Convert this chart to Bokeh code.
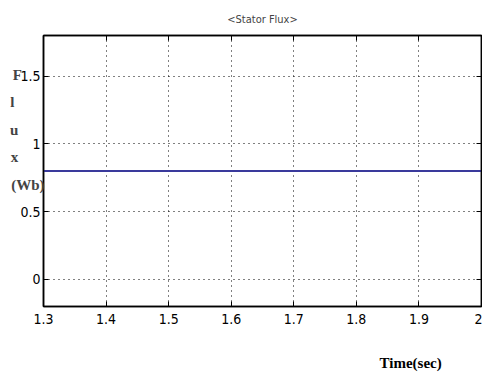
from bokeh.plotting import figure
from bokeh.models import Range1d, LinearAxis, FixedTicker
from bokeh.embed import file_html
from bokeh.resources import INLINE

time_sec = [1.3, 1.4, 1.5, 1.6, 1.7, 1.8, 1.9, 2.0]
stator_flux = [0.8, 0.8, 0.8, 0.8, 0.8, 0.8, 0.8, 0.8]
x_ticks = [1.3, 1.4, 1.5, 1.6, 1.7, 1.8, 1.9, 2.0]
x_tick_labels = ["1.3", "1.4", "1.5", "1.6", "1.7", "1.8", "1.9", "2"]
y_ticks = [0, 0.5, 1, 1.5]
y_tick_labels = ["0", "0.5", "1", "1.5"]
ylabel_parts = ["F", "l", "u", "x", "(Wb)"]
xlabel_text = "Time(sec)"

TICKFONT = "DejaVu Sans Condensed"
SERIF = "Liberation Serif"
NBSP = "\u00a0"

FL, FT, FB = 43, 35, 306  # frame left/top/bottom in page pixels

p = figure(width=482, height=378, output_backend="svg", toolbar_location=None,
           x_range=Range1d(1.3, 2.0), y_range=Range1d(-0.2, 1.8),
           min_border_left=FL, min_border_right=1, min_border_top=FT, min_border_bottom=378 - FB,
           title="<Stator Flux>")
p.title.align = "center"
p.title.text_font = TICKFONT
p.title.text_font_size = "11px"
p.title.text_font_style = "normal"
p.title.offset = 0
p.title.standoff = 19
p.outline_line_color = "black"
p.outline_line_width = 1.5
p.background_fill_color = "white"
p.border_fill_color = "white"

p.line(time_sec, stator_flux, line_color="#3a3a9c", line_width=2)

for ax in (p.xaxis[0], p.yaxis[0]):
    ax.major_tick_in = 5
    ax.major_tick_out = 0
    ax.minor_tick_in = 0
    ax.minor_tick_out = 0
    ax.axis_line_color = "black"
    ax.axis_line_width = 1.5
    ax.major_tick_line_color = "black"
    ax.major_label_text_font = TICKFONT
    ax.major_label_text_font_size = "14px"
    ax.major_label_text_color = "black"

p.xaxis[0].ticker = FixedTicker(ticks=x_ticks)
p.xaxis[0].major_label_overrides = {t: l for t, l in zip(x_ticks, x_tick_labels)}
p.xaxis[0].major_label_standoff = 7
p.yaxis[0].ticker = FixedTicker(ticks=y_ticks)
p.yaxis[0].major_label_overrides = {t: l for t, l in zip(y_ticks, y_tick_labels)}
p.yaxis[0].major_label_standoff = 3

# stacked vertical y label, letters padded so they line up on the left
pad = [6, 8, 7, 7, 0]
lines = [t + NBSP * n for t, n in zip(ylabel_parts, pad)] + [NBSP] * 3
yax = p.yaxis[0]
yax.axis_label = "\n".join(lines)
yax.axis_label_orientation = "horizontal"
yax.axis_label_text_font = SERIF
yax.axis_label_text_font_style = "bold"
yax.axis_label_text_font_size = "15px"
yax.axis_label_text_line_height = 1.72
yax.axis_label_text_align = "left"
yax.axis_label_standoff = -27

# x label, pushed to the right
xax = p.xaxis[0]
try:
    xax.axis_label_align = "right"
    xax.axis_label = xlabel_text + NBSP * 11
except Exception:
    xax.axis_label = NBSP * 79 + xlabel_text
xax.axis_label_text_font = SERIF
xax.axis_label_text_font_style = "bold"
xax.axis_label_text_font_size = "15px"
xax.axis_label_text_color = "black"
xax.axis_label_standoff = 28

for loc, tick in (("above", x_ticks), ("right", y_ticks)):
    ax = LinearAxis(ticker=FixedTicker(ticks=tick),
                    major_label_overrides={t: "" for t in tick},
                    major_tick_in=5, major_tick_out=0, minor_tick_in=0, minor_tick_out=0,
                    axis_line_color="black", axis_line_width=1.5)
    p.add_layout(ax, loc)

p.xgrid.ticker = FixedTicker(ticks=x_ticks)
p.ygrid.ticker = FixedTicker(ticks=y_ticks)
p.grid.grid_line_color = "black"
p.grid.grid_line_dash = "1 4"
p.grid.grid_line_width = 1

open("out.html", "w").write(file_html(p, INLINE))
